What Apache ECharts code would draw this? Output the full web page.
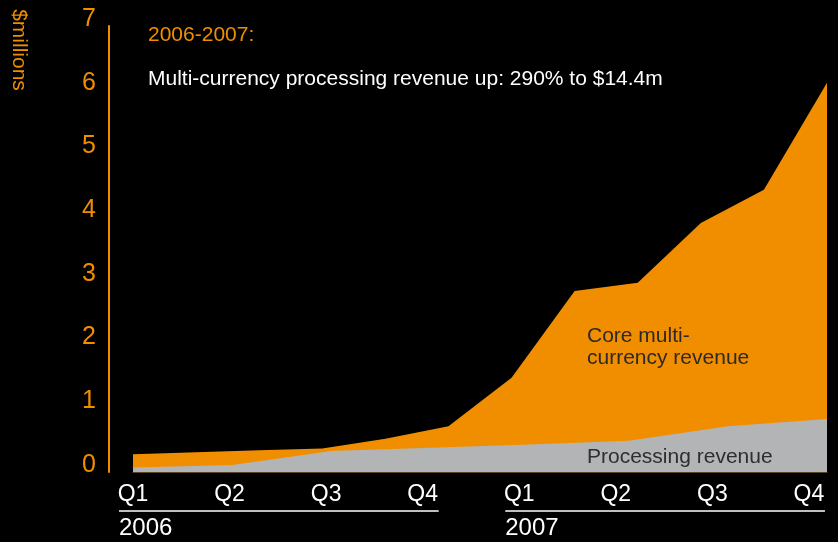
<!DOCTYPE html>
<html>
<head>
<meta charset="utf-8">
<script src="https://cdn.jsdelivr.net/npm/echarts@6/dist/echarts.min.js"></script>
<style>
html,body{margin:0;padding:0;background:#000;}
#chart{width:838px;height:542px;}
</style>
</head>
<body>
<div id="chart"></div>
<script>
// Bi-monthly total (core multi-currency incl. processing) revenue, $m
const monthCategories = ['Jan 06','Mar 06','May 06','Jul 06','Sep 06','Nov 06','Jan 07','Mar 07','May 07','Jul 07','Sep 07','Nov 07'];
const totalRevenue = [0.28, 0.31, 0.34, 0.37, 0.52, 0.72, 1.48, 2.84, 2.97, 3.91, 4.43, 6.11];
// Quarterly processing revenue, $m
const quarterCategories = ['Q1 06','Q2 06','Q3 06','Q4 06','Q1 07','Q2 07','Q3 07','Q4 07'];
const processingRevenue = [0.07, 0.11, 0.33, 0.38, 0.43, 0.49, 0.72, 0.83];
// Tick labels
const quarterLabels = ['Q1','Q2','Q3','Q4','Q1','Q2','Q3','Q4'];
const yearLabels = ['2006','2007'];
const yTickMin = 0, yTickMax = 7, yTickStep = 1;

const ORANGE = '#F18E00';
const GRAY = '#B3B4B6';
const FONT = 'Liberation Sans, Arial, sans-serif';

const chart = echarts.init(document.getElementById('chart'), null, {renderer: 'canvas'});

const option = {
  backgroundColor: '#000',
  animation: false,
  title: [
    {text: '2006-2007:', left: 143, top: 20, textStyle: {color: ORANGE, fontSize: 21, fontWeight: 'normal', fontFamily: FONT}},
    {text: 'Multi-currency processing revenue up: 290% to $14.4m', left: 143, top: 64, textStyle: {color: '#fff', fontSize: 21, fontWeight: 'normal', fontFamily: FONT}}
  ],
  grid: {left: 133, right: 11, top: 26, bottom: 70, containLabel: false},
  xAxis: [
    {type: 'category', data: monthCategories, boundaryGap: false,
      axisLine: {show: true, onZero: false, lineStyle: {color: '#5a4320', width: 1}}, axisTick: {show: false}, axisLabel: {show: false}, splitLine: {show: false}},
    {type: 'category', data: quarterCategories, boundaryGap: false, show: false},
    {type: 'value', min: 0, max: 7.187, interval: 1, position: 'bottom',
      axisLine: {show: false, onZero: false}, axisTick: {show: false}, splitLine: {show: false},
      axisLabel: {show: true, margin: 11, color: '#fff', fontSize: 23, fontFamily: FONT,
        showMaxLabel: false,
        formatter: function (v) { return Number.isInteger(v) && quarterLabels[v] ? quarterLabels[v] : ''; }}}
  ],
  yAxis: {
    type: 'value', min: yTickMin, max: yTickMax, interval: yTickStep, offset: 24,
    axisLine: {show: true, onZero: false, lineStyle: {color: ORANGE, width: 2}},
    axisTick: {show: false}, splitLine: {show: false},
    axisLabel: {color: ORANGE, fontSize: 25, fontFamily: FONT, margin: 13, verticalAlign: 'bottom', lineHeight: 14}
  },
  series: [
    {name: 'Core multi-currency revenue', type: 'line', xAxisIndex: 0, data: totalRevenue,
      symbol: 'none', lineStyle: {width: 0}, areaStyle: {color: ORANGE, opacity: 1}, itemStyle: {color: ORANGE}, z: 2},
    {name: 'Processing revenue', type: 'line', xAxisIndex: 1, data: processingRevenue,
      symbol: 'none', lineStyle: {width: 0}, areaStyle: {color: GRAY, opacity: 1}, itemStyle: {color: GRAY}, z: 3}
  ]
};
chart.setOption(option);

function px(v) { return chart.convertToPixel({xAxisIndex: 2}, v); }
const yearGraphics = [];
yearLabels.forEach(function (yr, i) {
  const x0 = px(i * 4) - 14;
  const x1 = px(i * 4 + 3) + 16;
  yearGraphics.push({type: 'line', shape: {x1: x0, y1: 511, x2: x1, y2: 511}, style: {stroke: '#fff', lineWidth: 1.5}, silent: true});
  yearGraphics.push({type: 'text', x: x0, y: 528, style: {text: yr, fill: '#fff', font: '24px ' + FONT, verticalAlign: 'middle'}, silent: true});
});

chart.setOption({
  graphic: yearGraphics.concat([
    {type: 'text', x: 19, y: 50, rotation: -Math.PI / 2,
      style: {text: '$millions', fill: ORANGE, font: '21px ' + FONT, align: 'center', verticalAlign: 'middle'}, silent: true},
    {type: 'text', x: 587, y: 325, z: 10,
      style: {text: 'Core multi-\ncurrency revenue', fill: '#2a2a2a', font: '21px ' + FONT, lineHeight: 22, verticalAlign: 'top'}, silent: true},
    {type: 'text', x: 587, y: 457, z: 10,
      style: {text: 'Processing revenue', fill: '#2e2e2e', font: '21px ' + FONT, verticalAlign: 'middle'}, silent: true}
  ])
});
</script>
</body>
</html>
